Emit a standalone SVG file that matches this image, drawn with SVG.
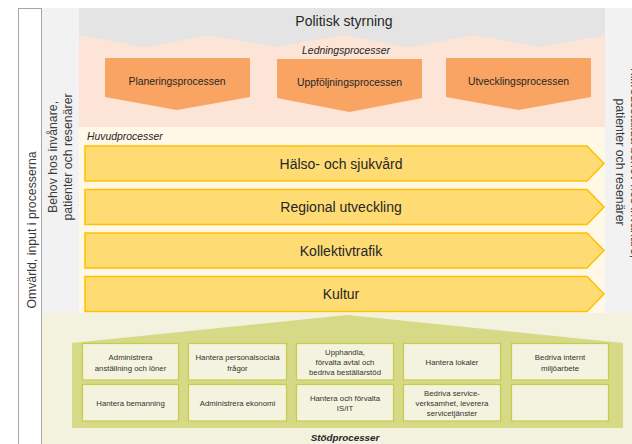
<svg xmlns="http://www.w3.org/2000/svg" width="632" height="444" viewBox="0 0 632 444">
<style>
text{font-family:"Liberation Sans",Arial,sans-serif;fill:#262626}
.side{font-size:12.3px;text-anchor:middle;fill:#3a3a3a}
.hd{font-size:14px;text-anchor:middle}
.it{font-style:italic;font-size:10.4px}
.led{fill:#f9a462}
.ledt{font-size:10.4px;text-anchor:middle}
.arr{fill:#ffdc73;stroke:#ffc000;stroke-width:1.5}
.sb{fill:#f3f3df;stroke:#c6cd4c;stroke-width:1.2}
.st{font-size:7.8px;text-anchor:middle;fill:#333}
</style>
<rect width="632" height="444" fill="#ffffff"/>
<g id="omvarld">
<rect x="18.5" y="8.5" width="23" height="440" fill="#ffffff" stroke="#a6a6a6" stroke-width="1"/>
<text class="side" transform="translate(35.5,230) rotate(-90)">Omvärld, input i processerna</text>
</g>
<g id="behov">
<rect x="42" y="8" width="37" height="305" fill="#f2f2f2"/>
<text class="side" transform="translate(57,157) rotate(-90)"><tspan x="0" y="0">Behov hos invånare,</tspan><tspan x="0" y="15">patienter och resenärer</tspan></text>
</g>
<g id="tillfredsstallda">
<rect x="605" y="8" width="27" height="305" fill="#f2f2f2"/>
<text class="side" transform="translate(631,162) rotate(90)"><tspan x="0" y="0">Tillfredsställda behov hos invånare,</tspan><tspan x="0" y="15">patienter och resenärer</tspan></text>
</g>
<g id="ledningsprocesser">
<rect x="79" y="8" width="526" height="119" fill="#fce4d6"/>
<text class="it" x="346" y="54" text-anchor="middle">Ledningsprocesser</text>
</g>
<g id="politisk-styrning">
<polygon points="79,8 605,8 605,35 540,47 475,35 408,47 342,35 276,47 210,35 144,47 79,35" fill="#e4e4e4"/>
<text class="hd" x="344" y="26">Politisk styrning</text>
</g>
<g id="planeringsprocessen">
<polygon class="led" points="105,58 250,58 250,97 177,110 105,97"/>
<text class="ledt" x="177" y="85">Planeringsprocessen</text>
</g>
<g id="uppfoljningsprocessen">
<polygon class="led" points="277,59 422,59 422,98 349.5,112 277,98"/>
<text class="ledt" x="349.5" y="86">Uppföljningsprocessen</text>
</g>
<g id="utvecklingsprocessen">
<polygon class="led" points="446,58 591,58 591,97 518.5,110 446,97"/>
<text class="ledt" x="518.5" y="85">Utvecklingsprocessen</text>
</g>
<g id="huvudprocesser">
<rect x="79" y="127" width="526" height="186" fill="#fff8e7"/>
<text class="it" x="87" y="140">Huvudprocesser</text>
</g>
<g id="halso-och-sjukvard">
<polygon class="arr" points="85,146 587,146 604,163.5 587,181 85,181"/>
<text class="hd" x="341" y="168.5">Hälso- och sjukvård</text>
</g>
<g id="regional-utveckling">
<polygon class="arr" points="85,189.5 587,189.5 604,207 587,224.5 85,224.5"/>
<text class="hd" x="341" y="212">Regional utveckling</text>
</g>
<g id="kollektivtrafik">
<polygon class="arr" points="85,233 587,233 604,250.5 587,268 85,268"/>
<text class="hd" x="341" y="255.5">Kollektivtrafik</text>
</g>
<g id="kultur">
<polygon class="arr" points="85,276.5 587,276.5 604,294 587,311.5 85,311.5"/>
<text class="hd" x="341" y="299">Kultur</text>
</g>
<g id="stodprocesser">
<rect x="42" y="313" width="590" height="131" fill="#f2f2df"/>
<polygon points="72,343 347,315 623,343 623,428 72,428" fill="#d6d986"/>
<text x="345" y="441" text-anchor="middle" font-size="9.8" font-style="italic" font-weight="bold">Stödprocesser</text>
</g>
<g id="administrera-anstallning">
<rect class="sb" x="82.5" y="343.5" width="96" height="36.5"/>
<text class="st"><tspan x="130.5" y="359.7">Administrera</tspan><tspan x="130.5" y="370.7">anställning och löner</tspan></text>
</g>
<g id="hantera-personalsociala">
<rect class="sb" x="188.5" y="343.5" width="98" height="36.5"/>
<text class="st"><tspan x="237.5" y="359.7">Hantera personalsociala</tspan><tspan x="237.5" y="370.7">frågor</tspan></text>
</g>
<g id="upphandla">
<rect class="sb" x="296.5" y="343.5" width="97" height="36.5"/>
<text class="st"><tspan x="345" y="354.7">Upphandla,</tspan><tspan x="345" y="364.7">förvalta avtal och</tspan><tspan x="345" y="374.7">bedriva beställarstöd</tspan></text>
</g>
<g id="hantera-lokaler">
<rect class="sb" x="403.5" y="343.5" width="97" height="36.5"/>
<text class="st" x="452" y="364.5">Hantera lokaler</text>
</g>
<g id="bedriva-internt">
<rect class="sb" x="511.5" y="343.5" width="97" height="36.5"/>
<text class="st"><tspan x="560" y="359.7">Bedriva internt</tspan><tspan x="560" y="370.7">miljöarbete</tspan></text>
</g>
<g id="hantera-bemanning">
<rect class="sb" x="82.5" y="384.5" width="96" height="36.5"/>
<text class="st" x="130.5" y="405.5">Hantera bemanning</text>
</g>
<g id="administrera-ekonomi">
<rect class="sb" x="188.5" y="384.5" width="98" height="36.5"/>
<text class="st" x="237.5" y="405.5">Administrera ekonomi</text>
</g>
<g id="hantera-och-forvalta">
<rect class="sb" x="296.5" y="384.5" width="97" height="36.5"/>
<text class="st"><tspan x="345" y="400.7">Hantera och förvalta</tspan><tspan x="345" y="410.7">IS/IT</tspan></text>
</g>
<g id="bedriva-service">
<rect class="sb" x="403.5" y="384.5" width="97" height="36.5"/>
<text class="st"><tspan x="452" y="395.7">Bedriva service-</tspan><tspan x="452" y="405.7">verksamhet, leverera</tspan><tspan x="452" y="415.7">servicetjänster</tspan></text>
</g>
<g id="tom-ruta">
<rect class="sb" x="511.5" y="384.5" width="97" height="36.5"/>
</g>
<g id="connectors"></g>
</svg>
